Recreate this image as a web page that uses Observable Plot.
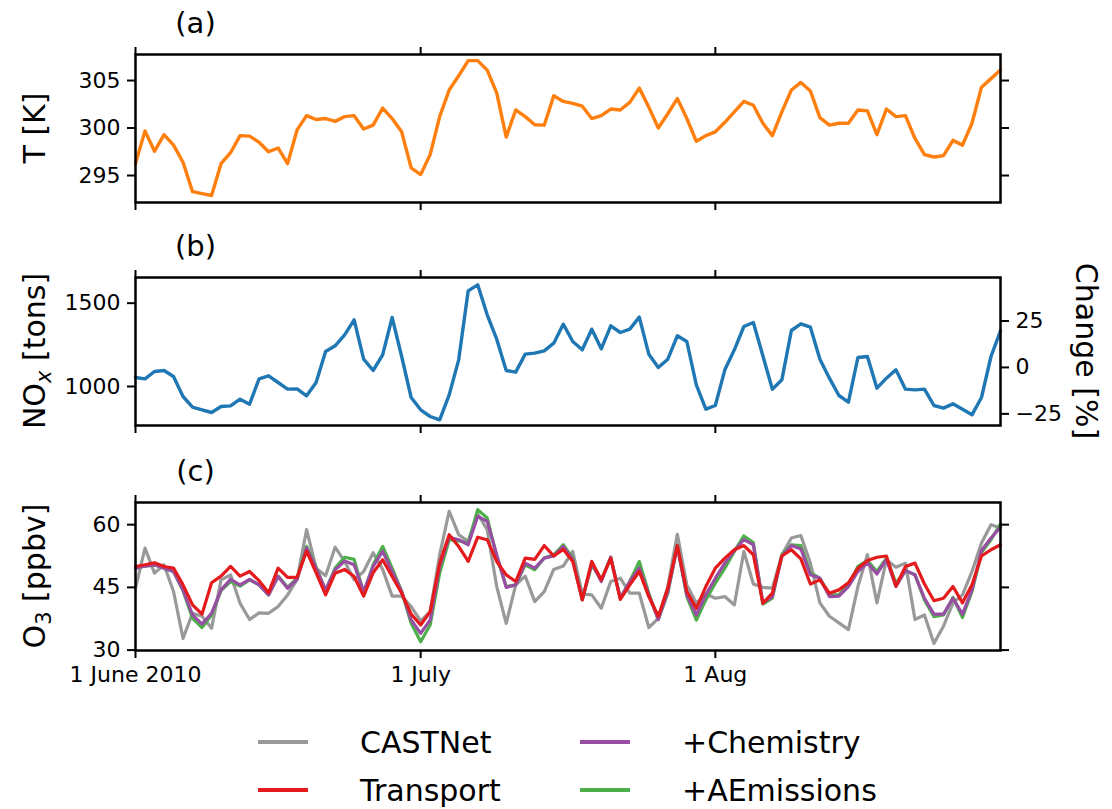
<!DOCTYPE html>
<html>
<head>
<meta charset="utf-8">
<script src="https://cdn.jsdelivr.net/npm/d3@7"></script>
<script src="https://cdn.jsdelivr.net/npm/@observablehq/plot@0.6"></script>
<style>
  html, body { margin: 0; padding: 0; background: #fff; }
  body { font-family: "DejaVu Sans", sans-serif; color: #000; }
  #wrap { position: relative; width: 1112px; height: 809px; overflow: hidden; }
  .panel { position: absolute; left: 0; }
  .ylab { position: absolute; font-size: 30px; white-space: nowrap; transform: translate(-50%, -50%) rotate(-90deg); line-height: 1; }
  .ylab.right { transform: translate(-50%, -50%) rotate(90deg); }
  .sub { font-size: 0.7em; position: relative; top: 0.3em; }
  .legend-item { position: absolute; display: flex; align-items: center; font-size: 30px; white-space: nowrap; }
  .swatch { width: 50px; height: 4px; margin-right: 52px; }
</style>
</head>
<body>
<div id="wrap"></div>
<script>
// ---------- data (daily, 1 June 2010 – 31 Aug 2010) ----------
const startDay = "2010-06-01";
const temperature = [296.25,299.7,297.55,299.3,298.2,296.4,293.3,293.1,292.9,296.25,
  297.4,299.2,299.15,298.5,297.5,297.9,296.25,299.8,301.3,300.9,
  301.0,300.7,301.2,301.3,299.9,300.3,302.1,301.0,299.6,295.8,
  295.1,297.2,301.2,304.0,305.5,307.1,307.1,306.1,303.7,299.05,
  301.9,301.2,300.35,300.3,303.4,302.8,302.6,302.3,301.0,301.3,
  302.0,301.9,302.7,304.2,302.2,300.0,301.5,303.1,301.0,298.6,
  299.2,299.6,300.6,301.7,302.8,302.4,300.5,299.2,301.7,304.0,
  304.8,303.9,301.1,300.3,300.5,300.5,301.9,301.8,299.3,302.0,
  301.2,301.3,298.9,297.2,296.95,297.1,298.7,298.2,300.5,304.3,
  305.2,306.1];
const nox = [1054,1046,1090,1096,1060,940,876,860,844,880,
  884,924,894,1046,1064,1024,984,986,944,1024,
  1210,1244,1310,1400,1164,1096,1190,1414,1180,934,
  860,820,800,950,1160,1574,1610,1430,1284,1096,
  1086,1194,1200,1214,1260,1374,1270,1220,1344,1226,
  1364,1324,1344,1416,1194,1114,1164,1304,1270,1010,
  864,886,1100,1220,1360,1384,1184,984,1040,1336,
  1376,1356,1164,1050,946,906,1174,1180,990,1050,
  1100,984,980,984,886,870,896,864,830,934,
  1180,1334];
const castnet = [44.8,54.4,48.4,50.4,44.0,32.8,38.8,38.1,35.2,46.8,
  48.0,41.2,37.3,38.9,38.8,40.4,43.2,46.9,58.8,49.6,
  47.8,54.6,51.2,46.8,48.8,53.3,49.3,42.9,42.9,40.4,
  37.0,39.2,52.8,63.2,57.6,56.0,62.6,58.8,45.2,36.4,
  45.6,47.7,41.6,44.0,49.3,50.1,53.6,43.4,43.2,40.0,
  46.4,47.2,43.6,43.6,35.4,37.6,45.2,57.7,45.6,41.2,
  43.4,42.4,42.8,40.8,53.6,45.8,45.0,44.8,52.8,56.8,
  57.4,50.8,41.3,38.1,36.5,34.9,45.2,52.8,41.3,51.6,
  49.8,50.8,37.3,38.4,31.6,35.7,41.3,43.2,48.8,55.6,
  60.0,59.2];
const transport = [50.0,50.4,50.9,50.0,49.6,45.6,40.8,38.6,46.1,47.7,
  50.0,47.7,48.8,46.6,43.7,49.6,47.4,47.4,53.7,48.5,
  43.2,48.4,49.3,47.6,42.9,48.5,51.6,47.6,43.6,38.6,
  36.0,39.2,50.8,57.6,54.8,51.2,57.0,56.4,51.2,48.0,
  46.4,52.0,51.7,55.0,52.5,54.1,51.2,42.0,51.2,46.8,
  52.0,42.1,45.6,48.8,42.8,38.1,44.8,55.0,44.0,40.0,
  45.2,49.6,52.0,54.0,55.0,52.8,41.2,43.6,52.5,54.0,
  51.8,45.8,46.8,43.6,44.4,46.1,49.6,51.4,52.2,52.5,
  45.3,50.0,50.8,45.8,41.8,42.4,45.2,41.3,45.6,52.5,
  54.0,55.2];
const chemistry = [49.6,50.1,50.4,49.6,48.8,44.4,38.4,36.2,38.8,44.4,
  46.9,45.6,46.9,45.6,43.2,47.6,44.8,46.9,54.4,49.6,
  44.4,49.2,51.3,50.4,44.0,50.0,53.6,48.8,44.0,37.2,
  34.0,37.2,50.0,57.0,56.4,55.2,62.0,60.8,52.8,45.0,
  45.6,50.8,49.6,52.0,52.5,54.8,51.6,42.1,50.8,46.4,
  52.2,42.4,46.4,49.6,43.2,37.3,44.0,54.8,43.2,38.4,
  43.2,47.2,50.8,53.8,56.4,55.2,41.3,42.8,52.4,55.0,
  54.2,48.0,47.2,42.8,42.9,45.2,48.8,50.9,48.2,51.7,
  45.2,49.0,48.0,42.4,38.6,38.6,42.4,38.6,44.4,53.8,
  56.8,59.4];
const aemissions = [49.6,50.1,50.4,49.6,48.8,44.2,37.6,35.4,38.4,44.2,
  46.4,45.3,46.8,45.6,43.2,47.7,45.0,47.2,54.8,49.8,
  44.2,49.6,52.2,51.7,43.6,50.4,54.8,49.6,44.0,36.4,
  32.0,36.0,48.4,56.4,56.1,55.6,63.6,61.6,52.4,45.2,
  45.6,50.4,49.2,52.0,52.8,55.2,52.0,42.0,50.4,46.8,
  52.2,42.4,46.4,51.2,43.6,37.3,43.6,55.0,42.8,37.2,
  42.0,46.0,49.6,53.6,57.3,55.7,41.0,42.4,52.8,55.2,
  55.0,48.5,47.2,43.2,43.2,45.6,50.0,51.4,48.8,52.0,
  46.0,49.0,48.0,42.0,38.0,38.4,42.6,37.8,44.0,53.3,
  56.4,60.2];

const seriesNames = ["CASTNet", "+AEmissions", "+Chemistry", "Transport"]; // draw order
const seriesColors = ["#999999", "#4daf4a", "#984ea3", "#e41a1c"];
const legendOrder = ["CASTNet", "Transport", "+Chemistry", "+AEmissions"];

const tempTicks = [295, 300, 305];
const noxTicks = [1000, 1500];
const changeTicks = [-25, 0, 25];
const o3Ticks = [30, 45, 60];
const xTickDates = ["2010-06-01", "2010-07-01", "2010-08-01"];
const xTickLabels = ["1 June 2010", "1 July", "1 Aug"];
const panelTitles = ["(a)", "(b)", "(c)"];

// ---------- build ----------
const day0 = new Date(startDay + "T00:00:00Z");
const dates = temperature.map((_, i) => new Date(+day0 + i * 864e5));
const xTicks = xTickDates.map(s => new Date(s + "T00:00:00Z"));
const xDomain = [dates[0], dates[dates.length - 1]];

const W = 1112, ML = 135, MR = 112, MT = 54, FH = 148, MB = 44;
const font = "DejaVu Sans";
const TW = 2; // tick stroke width
const FS = 22; // tick label font size

function commonAxes(yTicks, opts = {}) {
  return [
    Plot.frame({stroke: "black", strokeWidth: 2.5}),
    Plot.axisY(yTicks, {anchor: "left", tickSize: 8, tickPadding: 7, strokeWidth: TW, label: null, fontSize: FS, tickFormat: d => String(d)}),
    opts.rightAxis ? opts.rightAxis
      : Plot.axisY(yTicks, {anchor: "right", tickSize: 8, strokeWidth: TW, fill: "none", label: null}),
    Plot.axisX(xTicks, {anchor: "top", tickSize: 8, strokeWidth: TW, fill: "none", label: null}),
    opts.bottomLabels
      ? Plot.axisX(xTicks, {anchor: "bottom", tickSize: 8, tickPadding: 8, strokeWidth: TW, label: null, fontSize: FS,
          tickFormat: d => xTickLabels[xTicks.findIndex(t => +t === +d)]})
      : Plot.axisX(xTicks, {anchor: "bottom", tickSize: 8, strokeWidth: TW, fill: "none", label: null}),
    Plot.text([opts.title], {frameAnchor: "top-left", dx: 60, dy: -31, fontSize: 29, textAnchor: "middle", lineAnchor: "middle"})
  ];
}

function mkPlot(yDomain, marks, extra = {}) {
  return Plot.plot({
    width: W, height: MT + FH + MB,
    marginLeft: ML, marginRight: MR, marginTop: MT, marginBottom: MB,
    style: {fontFamily: font, fontSize: FS + "px", background: "transparent", color: "black", overflow: "visible"},
    x: {type: "utc", domain: xDomain},
    y: {domain: yDomain},
    ...extra,
    marks
  });
}

const tempRows = dates.map((d, i) => ({date: d, value: temperature[i]}));
const noxRows = dates.map((d, i) => ({date: d, value: nox[i]}));
const o3Series = {CASTNet: castnet, Transport: transport, "+Chemistry": chemistry, "+AEmissions": aemissions};
const o3Rows = seriesNames.flatMap(name => dates.map((d, i) => ({date: d, value: o3Series[name][i], series: name})));

const changeBase = d3.mean(nox);
const fmtChange = v => { const p = Math.round((v / changeBase - 1) * 100); return p < 0 ? "\u2212" + (-p) : String(p); };

const pa = mkPlot([292.16, 307.74], [
  Plot.line(tempRows, {x: "date", y: "value", stroke: "#ff7f0e", strokeWidth: 3.4}),
  ...commonAxes(tempTicks, {title: panelTitles[0]})
]);

const pb = mkPlot([766, 1654], [
  Plot.line(noxRows, {x: "date", y: "value", stroke: "#1f77b4", strokeWidth: 3.4}),
  ...commonAxes(noxTicks, {
    title: panelTitles[1],
    rightAxis: Plot.axisY(changeTicks.map(p => changeBase * (1 + p / 100)),
      {anchor: "right", tickSize: 8, tickPadding: 7, strokeWidth: TW, label: null, fontSize: FS, tickFormat: fmtChange})
  })
]);

const pc = mkPlot([29.9, 65.3], [
  Plot.line(o3Rows, {x: "date", y: "value", z: "series", stroke: "series", strokeWidth: 3.2}),
  ...commonAxes(o3Ticks, {title: panelTitles[2], bottomLabels: true})
], {color: {domain: seriesNames, range: seriesColors}});

const wrap = document.getElementById("wrap");
const tops = [0, 222.6, 447.6];
[pa, pb, pc].forEach((p, k) => {
  p.classList.add("panel");
  p.style.top = tops[k] + "px";
  wrap.appendChild(p);
});

// axis labels
function addLabel(html, x, y, right) {
  const d = document.createElement("div");
  d.className = "ylab" + (right ? " right" : "");
  d.innerHTML = html;
  d.style.left = x + "px";
  d.style.top = y + "px";
  wrap.appendChild(d);
}
addLabel("T [K]", 35, tops[0] + MT + FH / 2);
addLabel('NO<span class="sub" style="font-style:italic">x</span> [tons]', 35, tops[1] + MT + FH / 2);
addLabel('O<span class="sub">3</span> [ppbv]', 35, tops[2] + MT + FH / 2);
addLabel("Change [%]", 1086, tops[1] + MT + FH / 2, true);

// legend
const legendPos = {
  "CASTNet": [258, 742], "Transport": [258, 790],
  "+Chemistry": [580, 742], "+AEmissions": [580, 790]
};
legendOrder.forEach(name => {
  const [x, y] = legendPos[name];
  const item = document.createElement("div");
  item.className = "legend-item";
  item.style.left = x + "px";
  item.style.top = (y - 18) + "px";
  item.style.height = "36px";
  const sw = document.createElement("span");
  sw.className = "swatch";
  sw.style.background = seriesColors[seriesNames.indexOf(name)];
  const tx = document.createElement("span");
  tx.textContent = name;
  item.appendChild(sw); item.appendChild(tx);
  wrap.appendChild(item);
});
</script>
</body>
</html>
